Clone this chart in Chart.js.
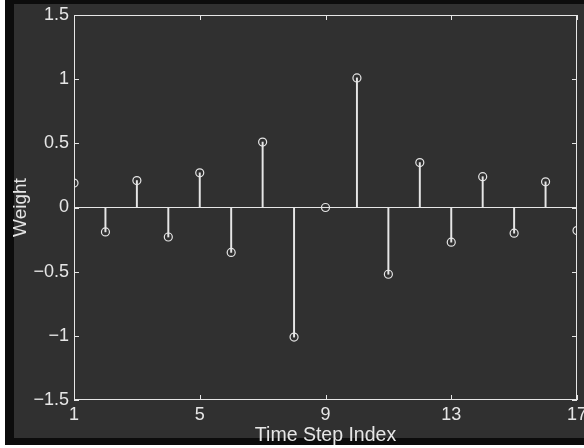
<!DOCTYPE html>
<html>
<head>
<meta charset="utf-8">
<script src="https://cdn.jsdelivr.net/npm/chart.js@4.4.1/dist/chart.umd.min.js"></script>
<style>
    html, body { margin: 0; padding: 0; background: #fff; }
    #wrap { width: 584px; height: 448px; position: relative; }
</style>
</head>
<body>
<div id="wrap"><canvas id="stemChart"></canvas></div>
<script>
// Data
const timeSteps = [1, 2, 3, 4, 5, 6, 7, 8, 9, 10, 11, 12, 13, 14, 15, 16, 17];
const weights = [0.19, -0.19, 0.21, -0.23, 0.27, -0.35, 0.51, -1.01, 0.0, 1.01, -0.52, 0.35, -0.27, 0.24, -0.2, 0.2, -0.18];
const xTicks = [1, 5, 9, 13, 17];
const yTicks = [-1.5, -1, -0.5, 0, 0.5, 1, 1.5];

const fg = '#e6e6e6';
const font = 'Liberation Sans, Arial, sans-serif';

const points = timeSteps.map((t, i) => ({ x: t, y: weights[i] }));

// scanned look: dark background, white strip at left/bottom edge, box round the plot
const framePlugin = {
    id: 'frame',
    beforeDraw(chart) {
        const ctx = chart.ctx;
        ctx.save();
        ctx.fillStyle = '#ffffff';
        ctx.fillRect(0, 0, chart.width, chart.height);
        ctx.fillStyle = '#0c0c0c';
        ctx.fillRect(5, 0, chart.width - 5, chart.height - 3);
        ctx.fillStyle = '#303030';
        ctx.fillRect(14, 4, chart.width - 14, chart.height - 14);
        ctx.restore();
    },
    afterDatasetsDraw(chart) {
        const a = chart.chartArea;
        const ctx = chart.ctx;
        const xs = chart.scales.x;
        const ys = chart.scales.y;
        ctx.save();
        ctx.strokeStyle = fg;
        ctx.lineWidth = 1;
        ctx.strokeRect(a.left + 0.5, a.top + 0.5, a.right - a.left - 1, a.bottom - a.top - 1);
        // inward tick marks, MATLAB style
        ctx.beginPath();
        xTicks.forEach(v => {
            const px = Math.round(xs.getPixelForValue(v)) + 0.5;
            ctx.moveTo(px, a.bottom); ctx.lineTo(px, a.bottom - 5);
            ctx.moveTo(px, a.top); ctx.lineTo(px, a.top + 5);
        });
        yTicks.forEach(v => {
            const py = Math.round(ys.getPixelForValue(v)) + 0.5;
            ctx.moveTo(a.left, py); ctx.lineTo(a.left + 5, py);
            ctx.moveTo(a.right, py); ctx.lineTo(a.right - 5, py);
        });
        ctx.stroke();
        ctx.restore();
    }
};

document.addEventListener('DOMContentLoaded', function() {
    const ctx = document.getElementById('stemChart').getContext('2d');
    new Chart(ctx, {
        type: 'scatter',
        data: {
            datasets: [
                {
                    type: 'line',
                    label: 'circles',
                    data: points,
                    showLine: false,
                    pointStyle: 'circle',
                    pointRadius: 4,
                    pointBorderWidth: 1.2,
                    pointBorderColor: fg,
                    pointBackgroundColor: 'rgba(0,0,0,0)'
                },
                {
                    type: 'bar',
                    label: 'stems',
                    data: points,
                    backgroundColor: fg,
                    borderWidth: 0,
                    barThickness: 1.3
                }
            ]
        },
        options: {
            responsive: true,
            maintainAspectRatio: false,
            animation: false,
            layout: { padding: { left: 0, right: 7, top: 15, bottom: 0 } },
            plugins: {
                legend: { display: false },
                tooltip: { enabled: false }
            },
            scales: {
                x: {
                    type: 'linear',
                    min: 1,
                    max: 17,
                    offset: false,
                    afterBuildTicks(scale) {
                        scale.ticks = xTicks.map(v => ({ value: v }));
                    },
                    afterFit(scale) {
                        scale.height = 48;
                        scale.paddingLeft = 0;
                        scale.paddingRight = 0;
                    },
                    grid: { display: false, drawTicks: false },
                    border: { display: false },
                    ticks: {
                        color: fg,
                        padding: 4,
                        maxRotation: 0,
                        autoSkip: false,
                        font: { family: font, size: 18 }
                    },
                    title: {
                        display: true,
                        text: 'Time Step Index',
                        color: fg,
                        padding: { top: 0, bottom: 1 },
                        font: { family: font, size: 19.5 }
                    }
                },
                y: {
                    min: -1.5,
                    max: 1.5,
                    afterBuildTicks(scale) {
                        scale.ticks = yTicks.map(v => ({ value: v }));
                    },
                    afterFit(scale) {
                        scale.width = 74;
                        scale.paddingTop = 0;
                        scale.paddingBottom = 0;
                    },
                    grid: {
                        drawTicks: false,
                        color: c => c.tick && c.tick.value === 0 ? fg : 'rgba(0,0,0,0)',
                        lineWidth: 1
                    },
                    border: { display: false },
                    ticks: {
                        color: fg,
                        padding: 5,
                        font: { family: font, size: 18 },
                        callback: v => (v < 0 ? '\u2212' + Math.abs(v) : String(v))
                    },
                    title: {
                        display: true,
                        text: 'Weight',
                        color: fg,
                        padding: { top: 9, bottom: 0 },
                        font: { family: font, size: 19 }
                    }
                }
            }
        },
        plugins: [framePlugin]
    });
});
</script>
</body>
</html>
